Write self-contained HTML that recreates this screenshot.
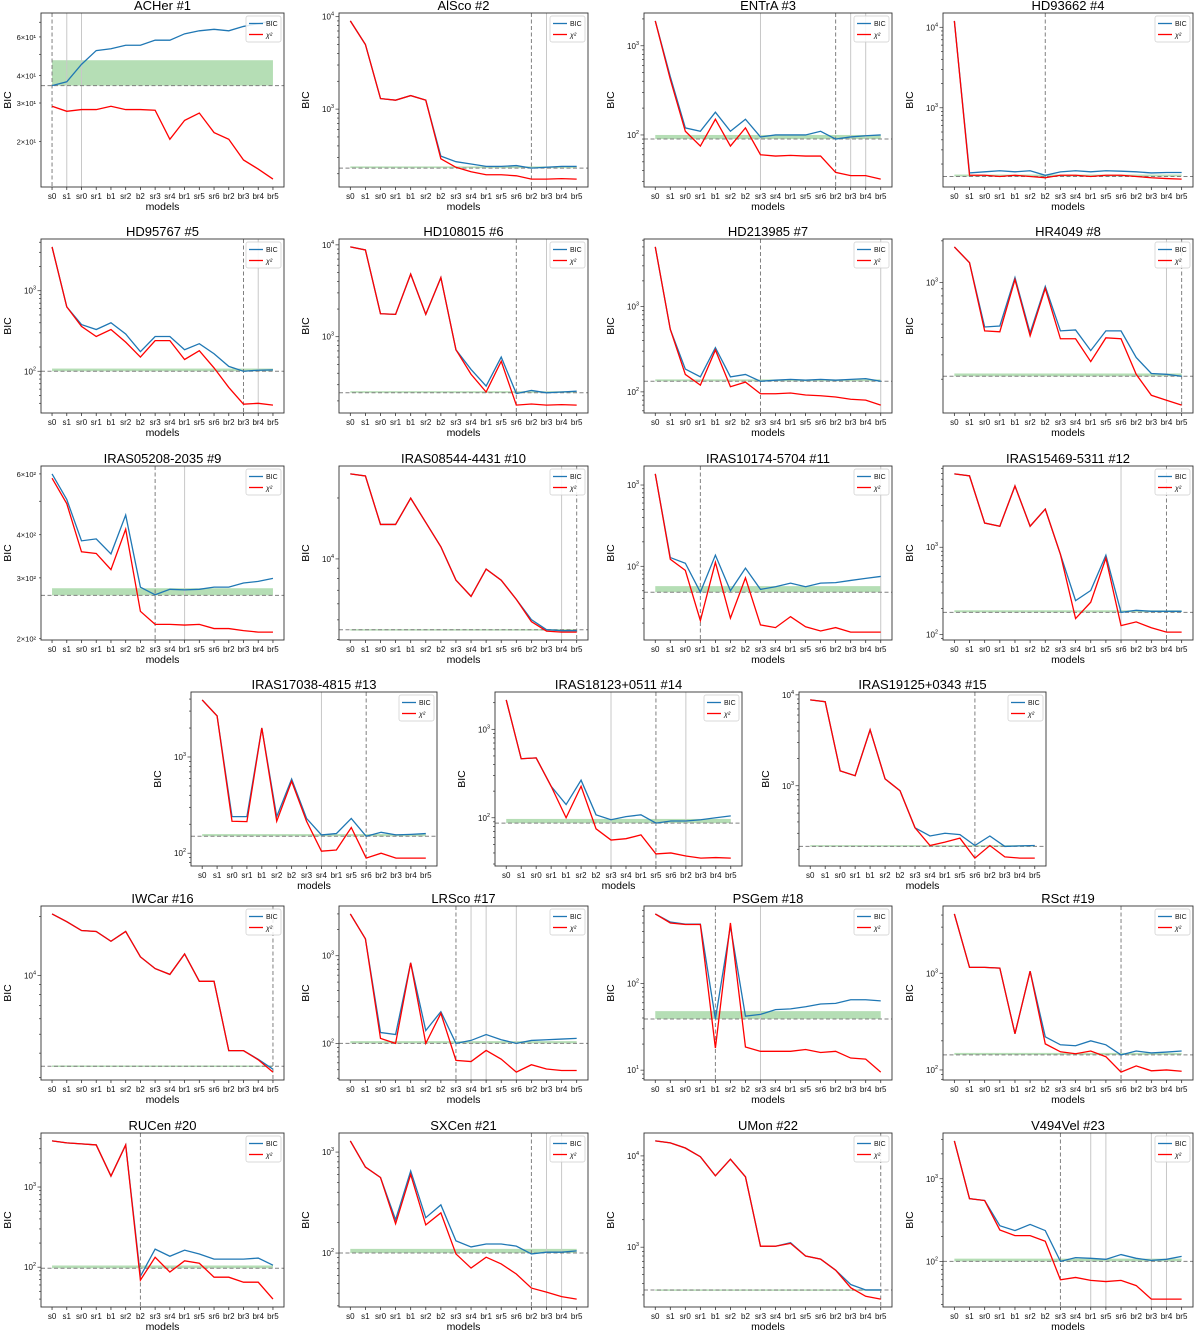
<!DOCTYPE html>
<html><head><meta charset="utf-8"><title>BIC panels</title>
<style>
body{margin:0;background:#fff;}
svg{display:block;font-family:"Liberation Sans","DejaVu Sans",sans-serif;}
</style></head>
<body>
<svg id="fig" width="1200" height="1331" viewBox="0 0 1200 1331" xmlns="http://www.w3.org/2000/svg"></svg>
<script>
const categories = ["s0","s1","sr0","sr1","b1","sr2","b2","sr3","sr4","br1","sr5","sr6","br2","br3","br4","br5"];
const titles = ["ACHer #1","AlSco #2","ENTrA #3","HD93662 #4","HD95767 #5","HD108015 #6","HD213985 #7","HR4049 #8","IRAS05208-2035 #9","IRAS08544-4431 #10","IRAS10174-5704 #11","IRAS15469-5311 #12","IRAS17038-4815 #13","IRAS18123+0511 #14","IRAS19125+0343 #15","IWCar #16","LRSco #17","PSGem #18","RSct #19","RUCen #20","SXCen #21","UMon #22","V494Vel #23"];
const bic1=[36,37.5,45,52,53,55,55,58,58,62,64,65,64,67,69,71];
const chi1=[29,27.5,28,28,29,28,28,27.8,20.5,25,27,22,20.5,16.5,15,13.5];
const bic2=[9000,5000,1300,1250,1400,1250,310,270,255,240,240,245,230,235,240,240];
const chi2=[9000,5000,1300,1250,1400,1250,290,235,210,195,195,190,175,175,177,175];
const bic3=[1900,450,120,110,180,110,150,95,100,100,100,110,90,95,98,100];
const chi3=[1900,420,110,75,150,75,120,60,58,59,58,58,38,35,35,32];
const bic4=[12000,155,160,165,160,165,145,160,165,160,165,163,160,155,157,157];
const chi4=[12000,145,145,140,145,140,135,145,145,140,145,145,140,135,132,130];
const bic5=[3500,630,380,330,400,290,175,270,270,185,220,165,115,100,103,104];
const chi5=[3500,630,360,270,330,230,150,240,240,140,180,110,63,39,40,38];
const bic6=[9500,8800,1780,1750,4800,1750,4400,720,440,290,600,240,260,245,250,255];
const chi6=[9500,8800,1780,1750,4800,1750,4400,720,390,250,540,180,185,180,182,180];
const bic7=[5000,540,185,150,330,150,160,133,137,140,137,140,137,140,143,133];
const chi7=[5000,540,160,120,310,115,130,95,95,97,92,90,87,82,80,70];
const bic8=[1808,1390,477,485,1085,432,936,447,454,322,447,447,287,220,217,210];
const chi8=[1808,1390,447,440,1050,412,906,392,392,268,398,392,217,153,141,130];
const bic9=[600,506,384,389,352,456,282,268,278,277,278,282,282,290,293,299];
const chi9=[583,492,357,353,317,415,240,220,220,219,220,214,214,211,209,209];
const bic10=[26300,25700,14800,14800,19950,15140,11480,7850,6530,8910,7850,6310,5010,4470,4420,4420];
const chi10=[26300,25700,14800,14800,19950,15140,11480,7850,6530,8910,7850,6310,4900,4400,4350,4350];
const bic11=[1370,128,109,48,137,50,95,52,56,62,56,62,63,67,71,75];
const chi11=[1370,122,89,21.5,112,23,72,19,17.6,24,18,16,17.6,15.5,15.5,15.5];
const bic12=[6900,6550,1890,1740,5020,1740,2730,830,245,320,810,180,190,185,185,185];
const chi12=[6900,6550,1890,1740,5020,1740,2730,830,153,235,750,127,140,120,107,107];
const bic13=[3920,2670,240,240,2000,240,590,230,155,160,230,150,165,155,157,160];
const chi13=[3920,2670,215,213,2000,215,560,215,105,108,185,89,100,89,89,89];
const bic14=[2150,465,475,227,141,266,108,95,103,108,87,92,92,95,100,105];
const chi14=[2150,465,475,227,100,227,75,56,58,64,39,40,37,35,35.5,35];
const bic15=[8800,8400,1460,1290,4130,1190,880,345,280,300,290,220,280,215,218,220];
const chi15=[8800,8400,1460,1290,4130,1190,880,345,220,240,265,160,220,165,160,160];
const bic16=[20650,18850,16980,16790,14960,16790,12450,10840,10120,12880,9330,9330,4120,4120,3720,3310];
const chi16=[20650,18850,16980,16790,14960,16790,12450,10840,10120,12880,9330,9330,4120,4120,3700,3200];
const bic17=[3000,1560,133,126,830,140,230,100,108,126,110,100,108,110,112,114];
const chi17=[3000,1560,114,100,830,100,220,64,62,83,66,47,57,51,49,49];
const bic18=[636,512,485,485,39,460,42,44,50,51,54,58,59,65,65,63];
const chi18=[636,500,480,480,18,500,18.5,16.5,16.5,16.5,17.3,16,16.5,13.8,13.4,9.5];
const bic19=[4110,1150,1150,1130,237,1050,220,182,178,200,182,143,157,150,153,157];
const chi19=[4110,1150,1150,1130,237,1050,186,154,147,157,137,95,110,98,100,97];
const bic20=[3760,3550,3450,3350,1370,3350,77,168,137,163,146,126,126,126,130,106];
const chi20=[3760,3550,3450,3350,1370,3350,69,133,87,120,112,75,75,65,65,40];
const bic21=[1290,710,560,214,650,224,300,132,115,123,123,117,98,102,102,105];
const chi21=[1290,710,560,195,600,190,250,98,71,91,78,62,45,41,37,35];
const bic22=[14600,13900,12200,9800,6060,9200,5900,1025,1025,1120,800,740,560,390,340,340];
const chi22=[14600,13900,12200,9800,6060,9200,5900,1025,1025,1100,800,740,560,360,290,270];
const bic23=[2870,575,545,270,236,280,236,100,111,109,106,121,109,103,106,115];
const chi23=[2870,575,545,240,205,205,175,60,64,59,57,59,51,35,35,35];
const bicSeries=[bic1,bic2,bic3,bic4,bic5,bic6,bic7,bic8,bic9,bic10,bic11,bic12,bic13,bic14,bic15,bic16,bic17,bic18,bic19,bic20,bic21,bic22,bic23];
const chiSeries=[chi1,chi2,chi3,chi4,chi5,chi6,chi7,chi8,chi9,chi10,chi11,chi12,chi13,chi14,chi15,chi16,chi17,chi18,chi19,chi20,chi21,chi22,chi23];
const bestLevels=[36,230,90,140,100,245,133,210,267,4470,48,180,150,87,215,3430,100,39,143,97,100,340,100];
const bandTops=[47,240,100,148,108,255,140,220,280,4500,57,190,158,97,222,3460,106,48,150,105,110,345,108];
const dashedIdx=[[0],[12],[12],[6],[13],[11],[7],[15],[7],[15],[3],[14],[11],[10],[11],[15],[7],[4],[11],[6],[12],[15],[7]];
const grayIdx=[[1,2],[13],[7,13,14],[],[14],[13],[15],[14],[9],[14],[15],[11],[8],[7,12],[],[],[8,9,11],[7],[],[],[13,14],[],[9,10,13,14]];
const customTicks={0:[[20,"2×10¹"],[30,"3×10¹"],[40,"4×10¹"],[60,"6×10¹"]],8:[[200,"2×10²"],[300,"3×10²"],[400,"4×10²"],[600,"6×10²"]]};

const NS="http://www.w3.org/2000/svg";
const svg=document.getElementById("fig");
function mk(tag,attrs,parent){const e=document.createElementNS(NS,tag);for(const k in attrs)e.setAttribute(k,attrs[k]);parent.appendChild(e);return e;}

const colX=[[41,284],[339,588],[644,892],[943,1193]];
const rowY=[[13,187],[239,413],[466,640],[692,866],[906,1080],[1133,1307]];
const row4X=[[191,437],[495,742],[799,1046]];
function boxFor(i){
  if(i<12){const r=Math.floor(i/4),c=i%4;return [colX[c][0],rowY[r][0],colX[c][1],rowY[r][1]];}
  if(i<15){const c=i-12;return [row4X[c][0],rowY[3][0],row4X[c][1],rowY[3][1]];}
  const j=i-15,r=4+Math.floor(j/4),c=j%4;return [colX[c][0],rowY[r][0],colX[c][1],rowY[r][1]];
}

for(let p=0;p<23;p++){
  const [x0,y0,x1,y1]=boxFor(p);
  const bic=bicSeries[p],chi=chiSeries[p];
  const g=mk("g",{},svg);
  
  
  const all=bic.concat(chi,[bestLevels[p],bandTops[p]]).map(Math.log10);
  let lo=Math.min(...all),hi=Math.max(...all);const pad=(hi-lo)*0.05;lo-=pad;hi+=pad;
  const xs=i=>x0+(i+0.75)/16.5*(x1-x0);
  const ys=v=>y1-(Math.log10(v)-lo)/(hi-lo)*(y1-y0);
  const cid="clip"+p;
  const cp=mk("clipPath",{id:cid},g);mk("rect",{x:x0,y:y0,width:x1-x0,height:y1-y0},cp);
  const inner=mk("g",{"clip-path":"url(#"+cid+")"},g);
  const band=mk("rect",{x:xs(0),y:ys(bandTops[p]),width:xs(15)-xs(0),height:Math.max(1.5,ys(bestLevels[p])-ys(bandTops[p])),fill:"#2ca02c","fill-opacity":0.35},inner);
  
  
  grayIdx[p].forEach(i=>{const l=mk("line",{x1:xs(i),x2:xs(i),y1:y0,y2:y1,stroke:"#c8c8c8","stroke-width":1},inner);
    
    });
  dashedIdx[p].forEach(i=>{const l=mk("line",{x1:xs(i),x2:xs(i),y1:y0,y2:y1,stroke:"#808080","stroke-width":1,"stroke-dasharray":"4,2.5"},inner);
    
    });
  const hl=mk("line",{x1:x0,x2:x1,y1:ys(bestLevels[p]),y2:ys(bestLevels[p]),stroke:"#808080","stroke-width":1,"stroke-dasharray":"4,2.5"},inner);
  
  
  const pb=mk("polyline",{points:bic.map((v,i)=>xs(i)+","+ys(v)).join(" "),fill:"none",stroke:"#1f77b4","stroke-width":1.3},inner);
  
  
  const pc=mk("polyline",{points:chi.map((v,i)=>xs(i)+","+ys(v)).join(" "),fill:"none",stroke:"#ff0000","stroke-width":1.3},inner);
  
  
  const fr=mk("rect",{x:x0,y:y0,width:x1-x0,height:y1-y0,fill:"none",stroke:"#333","stroke-width":0.9},g);
  
  
  categories.forEach((c,i)=>{mk("line",{x1:xs(i),x2:xs(i),y1:y1,y2:y1+3,stroke:"#333","stroke-width":0.8},g);
    const t=mk("text",{x:xs(i),y:y1+12,"font-size":8,"text-anchor":"middle",fill:"#111"},g);t.textContent=c;
    
    });
  const dl=Math.floor(lo),dh=Math.ceil(hi);
  for(let d=dl;d<=dh;d++){for(let m=1;m<10;m++){const v=m*Math.pow(10,d);const lv=Math.log10(v);if(lv<lo||lv>hi)continue;const yy=ys(v);
    mk("line",{x1:x0-(m===1?3.5:2),x2:x0,y1:yy,y2:yy,stroke:"#333","stroke-width":0.7},g);
    if(m===1&&!customTicks[p]){const t=mk("text",{x:x0-5,y:yy+3,"font-size":8,"text-anchor":"end",fill:"#111"},g);
      t.textContent="10";const s=mk("tspan",{dy:-4,"font-size":5.5},t);s.textContent=String(d);
      
      }}}
  if(customTicks[p])customTicks[p].forEach(([v,lab])=>{const t=mk("text",{x:x0-5,y:ys(v)+3,"font-size":7.5,"text-anchor":"end",fill:"#111"},g);t.textContent=lab;
    
    });
  const tt=mk("text",{x:(x0+x1)/2,y:y0-3,"font-size":13,"text-anchor":"middle",fill:"#000"},g);tt.textContent=titles[p];
  
  
  const xl=mk("text",{x:(x0+x1)/2,y:y1+23,"font-size":10.5,"text-anchor":"middle",fill:"#000"},g);xl.textContent="models";
  
  
  const ylx=x0-30,yly=(y0+y1)/2;
  const yl=mk("text",{x:ylx,y:yly,"font-size":10.5,"text-anchor":"middle",fill:"#000",transform:"rotate(-90 "+ylx+" "+yly+")"},g);yl.textContent="BIC";
  
  
  const lg=mk("g",{},g);
  
  
  const lx=x1-38,ly=y0+3;
  mk("rect",{x:lx,y:ly,width:35,height:26,rx:2,fill:"#fff","fill-opacity":0.85,stroke:"#ccc","stroke-width":0.7},lg);
  mk("line",{x1:lx+3,x2:lx+17,y1:ly+7.5,y2:ly+7.5,stroke:"#1f77b4","stroke-width":1.3},lg);
  mk("line",{x1:lx+3,x2:lx+17,y1:ly+18.5,y2:ly+18.5,stroke:"#ff0000","stroke-width":1.3},lg);
  const l1=mk("text",{x:lx+20,y:ly+10,"font-size":7,fill:"#111"},lg);l1.textContent="BIC";
  
  
  const l2=mk("text",{x:lx+20,y:ly+21.5,"font-size":7,"font-style":"italic",fill:"#111"},lg);l2.textContent="χ²";
  
  
}
</script>
</body></html>
